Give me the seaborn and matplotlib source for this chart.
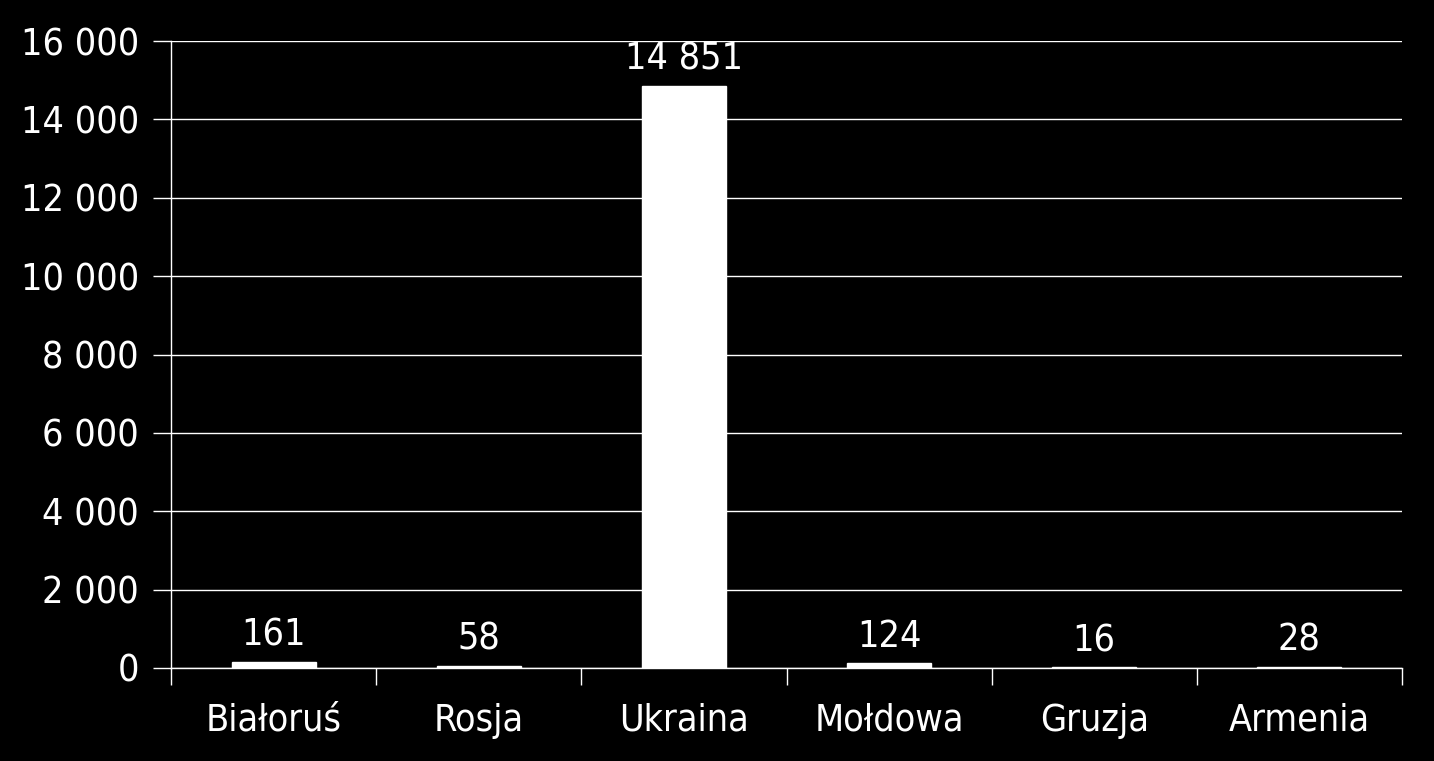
import numpy as np
import pandas as pd
import seaborn as sns
import matplotlib.pyplot as plt
from matplotlib.ticker import FixedLocator, FuncFormatter

countries = ["Białoruś", "Rosja", "Ukraina", "Mołdowa", "Gruzja", "Armenia"]
values = [161, 58, 14851, 124, 16, 28]

df = pd.DataFrame({"kraj": countries, "liczba": values})

sns.set_style("dark")
plt.rcParams['font.family'] = ['DejaVu Sans']
plt.rcParams['font.stretch'] = 'condensed'

fig = plt.figure(figsize=(14.34, 7.61), dpi=100, facecolor='black')
ax = fig.add_axes([171/1434, 1 - 668/761, (1402-171)/1434, (668-41)/761])
ax.set_facecolor('black')

sns.barplot(data=df, x="kraj", y="liczba", color='white', width=0.41,
            saturation=1, ax=ax, zorder=3)

ax.set_ylim(0, 16000)
ax.set_xlim(-0.5, 5.5)
ax.set_yticks(np.arange(0, 16001, 2000))
ax.yaxis.set_major_formatter(FuncFormatter(lambda v, p: f"{int(v):,}".replace(",", " ")))
ax.grid(axis='y', color='white', linewidth=1.0, zorder=0)
ax.grid(axis='x', visible=False)

# category boundary ticks on x
ax.xaxis.set_minor_locator(FixedLocator(np.arange(-0.5, 6, 1)))
ax.tick_params(axis='x', which='major', bottom=False, length=0, pad=25,
               labelsize=27, colors='white')
ax.tick_params(axis='x', which='minor', bottom=True, length=12, width=1,
               color='white', direction='out')
ax.tick_params(axis='y', left=True, length=13, width=1, color='white',
               labelsize=27, labelcolor='white', pad=10, direction='out')

for s in ['top', 'right']:
    ax.spines[s].set_visible(False)
for s in ['left', 'bottom']:
    ax.spines[s].set_color('white')
    ax.spines[s].set_linewidth(1)

for i, v in enumerate(values):
    ax.annotate(f"{v:,}".replace(",", " "), (i, v), xytext=(0, 6),
                textcoords='offset points', ha='center', va='bottom',
                color='white', fontsize=27)

ax.set_xlabel("")
ax.set_ylabel("")

fig.savefig("out.png", dpi=100, facecolor='black')
